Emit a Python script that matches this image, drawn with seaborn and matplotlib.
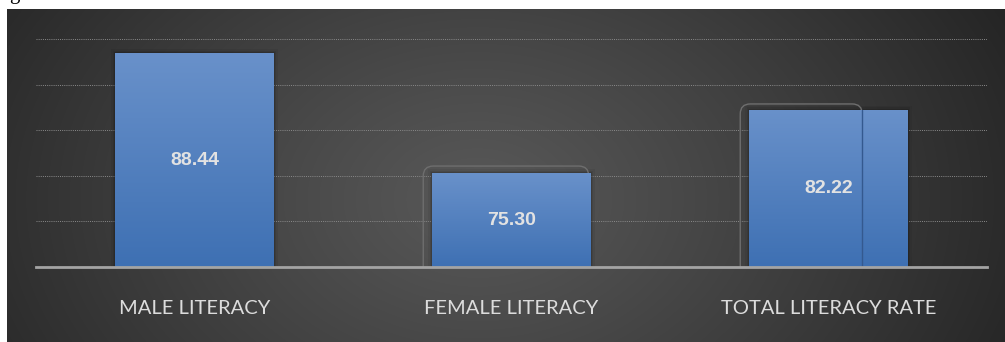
import numpy as np
import pandas as pd
import seaborn as sns
import matplotlib.pyplot as plt
from matplotlib.patches import FancyBboxPatch, Rectangle
from matplotlib.colors import LinearSegmentedColormap

# Literacy figures
categories = ["MALE LITERACY", "FEMALE LITERACY", "TOTAL LITERACY RATE"]
rates = [88.44, 75.30, 82.22]
value_labels = ["88.44", "75.30", "82.22"]
grid_values = [70, 75, 80, 85, 90]

sns.set_theme(style="dark")
plt.rcParams["font.family"] = ["Lato", "DejaVu Sans"]

W_PX, H_PX, DPI = 1005, 342, 100
fig = plt.figure(figsize=(W_PX / DPI, H_PX / DPI), dpi=DPI)
fig.patch.set_facecolor("white")

# dark panel with a soft radial glow
bg = fig.add_axes([7 / W_PX, 0, 998 / W_PX, 333 / H_PX])
bg.axis("off")
h, w = 333, 998
yy, xx = np.mgrid[0:h, 0:w]
d = np.clip(np.sqrt(((xx - 470) / 600) ** 2 + ((yy - 190) / 430) ** 2), 0, 1)
c_in, c_out = 0x58 / 255, 0x24 / 255
shade = c_in + (c_out - c_in) * d ** 1.1
bg.imshow(np.dstack([shade] * 3), aspect="auto", extent=[0, 1, 0, 1], origin="upper")
bg.set_xlim(0, 1)
bg.set_ylim(0, 1)

# caption line above the panel, mostly beyond the top edge
fig.text(9 / W_PX, 1 + 1.5 / H_PX, "g", fontsize=15, color="black",
         family="Liberation Serif", va="baseline", ha="left")

ax = fig.add_axes([36 / W_PX, 1 - 267 / H_PX, 951 / W_PX, (267 - 39) / H_PX])
ax.patch.set_alpha(0)

df = pd.DataFrame({"category": categories, "rate": rates})
sns.barplot(data=df, x="category", y="rate", width=0.5, color="#4677bb",
            saturation=1, ax=ax, zorder=3, errorbar=None, linewidth=0,
            edgecolor="none")

ax.set_xlim(-0.5, 2.5)
ax.set_ylim(65, 90)
ax.set_yticks(grid_values)
ax.set_yticklabels([])
ax.tick_params(axis="y", length=0)
ax.yaxis.grid(True, color="#8a8a8a", linestyle=(0, (1, 1.2)), linewidth=0.7)
ax.xaxis.grid(False)
for s in ["top", "left", "right"]:
    ax.spines[s].set_visible(False)
ax.spines["bottom"].set_color("#a4a4a4")
ax.spines["bottom"].set_linewidth(2)
ax.spines["bottom"].set_zorder(6)

ax.set_xlabel("")
ax.set_ylabel("")
ax.set_xticks([0, 1, 2])
ax.set_xticklabels(categories, fontsize=14.5, color="#dcdcdc")
ax.tick_params(axis="x", which="major", length=0, pad=24)
ax.set_xticks([-0.5, 0.5, 1.5, 2.5], minor=True)
ax.tick_params(axis="x", which="minor", length=5, width=1.2, color="#a4a4a4",
               direction="out")

# vertical gradient fill for the bars
bar_cmap = LinearSegmentedColormap.from_list("bar", ["#3e70b3", "#6991ca"])
grad = np.linspace(0, 1, 256).reshape(-1, 1)
fig.canvas.draw()
to_px = ax.transData.transform
for i, patch in enumerate(ax.patches):
    x0 = patch.get_x()
    x1 = x0 + patch.get_width()
    top = patch.get_height()
    # faint shadow halo
    (px0, py0), (px1, py1) = to_px((x0, 65)), to_px((x1, top))
    for k, a in [(4, 0.06), (2.5, 0.08), (1.2, 0.12)]:
        halo = Rectangle(((px0 - k) / DPI, py0 / DPI), (px1 - px0 + 2 * k) / DPI,
                         (py1 - py0 + k) / DPI, transform=fig.dpi_scale_trans,
                         facecolor="black", alpha=a, edgecolor="none", zorder=2)
        halo.set_clip_path(ax.patch)
        ax.add_artist(halo)
    im = ax.imshow(grad, cmap=bar_cmap, aspect="auto", origin="lower",
                   extent=[x0, x1, 65, top], zorder=4)
    im.set_clip_path(patch)
    ax.text(x0 + patch.get_width() / 2, (65 + top) / 2, value_labels[i],
            ha="center", va="center", fontsize=14, fontweight="bold",
            family="Liberation Sans", color="#e2e2e2", zorder=7)

ax.set_xlim(-0.5, 2.5)
ax.set_ylim(65, 90)


def outline_box(x_left, x_right, y_top, dx_left, dx_right, dy_top):
    (lx, _), (rx, ty) = to_px((x_left, 65)), to_px((x_right, y_top))
    bx0 = (lx + dx_left) / DPI
    bx1 = (rx + dx_right) / DPI
    by1 = (ty + dy_top) / DPI
    by0 = by1 - 2.0
    box = FancyBboxPatch((bx0, by0), bx1 - bx0, by1 - by0,
                         boxstyle="round,pad=0,rounding_size=0.1",
                         transform=fig.dpi_scale_trans, facecolor="none",
                         edgecolor="#6e6e6e", linewidth=1, zorder=2.5)
    box.set_clip_path(ax.patch)
    ax.add_artist(box)


p_f = ax.patches[1]
outline_box(p_f.get_x(), p_f.get_x() + p_f.get_width(), p_f.get_height(), -9, -2, 7)
p_t = ax.patches[2]
split_x = p_t.get_x() + p_t.get_width() * (114 / 160)
outline_box(p_t.get_x(), split_x, p_t.get_height(), -9, 0, 6)
ax.plot([split_x, split_x], [65, p_t.get_height()], color="#34598f",
        linewidth=1, zorder=5)

fig.savefig("out.png", dpi=DPI)
